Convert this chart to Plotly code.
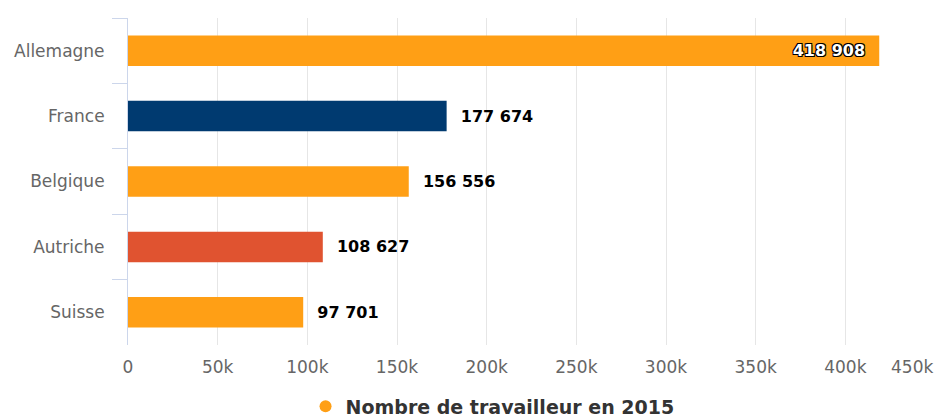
import plotly.graph_objects as go

# data
countries = ['Allemagne', 'France', 'Belgique', 'Autriche', 'Suisse']
workers_2015 = [418908, 177674, 156556, 108627, 97701]
bar_colors = ['#FF9F15', '#003A70', '#FF9F15', '#E05330', '#FF9F15']
x_ticks = [0, 50000, 100000, 150000, 200000, 250000, 300000, 350000, 400000, 450000]
x_tick_labels = ['0', '50k', '100k', '150k', '200k', '250k', '300k', '350k', '400k', '450k']
series_name = 'Nombre de travailleur en 2015'

font_family = 'DejaVu Sans, Arial, sans-serif'
axis_color = '#ccd6eb'
grid_color = '#e6e6e6'

# biggest bar gets its label inside, the others outside
text_pos = ['inside'] + ['outside'] * (len(workers_2015) - 1)
templates = ['%{x:,d}\u00a0\u00a0'] + ['\u00a0\u00a0%{x:,d}'] * (len(workers_2015) - 1)

p = go.Figure()

p.add_trace(
    go.Bar(
        x=workers_2015, y=countries, orientation='h', marker=dict(color=bar_colors, line=dict(width=0)),
        texttemplate=templates, textposition=text_pos, insidetextanchor='end', cliponaxis=False,
        textfont=dict(family=font_family, size=16, color='#000000', weight='bold'),
        insidetextfont=dict(family=font_family, size=16, color='#ffffff', weight='bold',
                            shadow='-1px -1px 0 #000, 1px -1px 0 #000, -1px 1px 0 #000, 1px 1px 0 #000'),
        outsidetextfont=dict(family=font_family, size=16, color='#000000', weight='bold'),
        showlegend=False, hoverinfo='x+y'
    )
)

# legend entry drawn with a round marker like the original
p.add_trace(
    go.Scatter(
        x=[None], y=[None], mode='markers', name=series_name,
        marker=dict(symbol='circle', size=17, color=bar_colors[0])
    )
)

p.update_layout(
    width=937, height=419,
    margin=dict(l=128, r=2, t=18, b=74),
    paper_bgcolor='white', plot_bgcolor='white',
    bargap=0.534,
    separators=', ',
    font=dict(family=font_family, size=17, color='#666666'),
    showlegend=True,
    legend=dict(
        orientation='h', x=0.22, xanchor='left', yref='container', y=0.03, yanchor='middle',
        font=dict(family=font_family, size=19, color='#333333', weight='bold'),
        itemsizing='constant', bgcolor='rgba(0,0,0,0)', borderwidth=0
    ),
)

p.update_xaxes(
    range=[0, x_ticks[-1]], tickmode='array', tickvals=x_ticks,
    ticktext=x_tick_labels[:-1] + [''], automargin=False,
    showgrid=True, gridcolor=grid_color, gridwidth=1, zeroline=False,
    showline=False, ticks='', ticklabelstandoff=10,
    tickfont=dict(family=font_family, size=17, color='#666666')
)

p.update_yaxes(
    type='category', categoryorder='array', categoryarray=countries, autorange='reversed',
    automargin=False,
    showgrid=False, zeroline=False, showline=True, linecolor=axis_color, linewidth=1,
    ticks='outside', tickson='boundaries', ticklen=15, tickcolor=axis_color, tickwidth=1,
    ticklabelstandoff=19,
    tickfont=dict(family=font_family, size=17, color='#666666')
)

# last axis label is pulled inside the chart, as in the original
p.add_annotation(
    x=x_ticks[-1], xref='x', y=0, yref='paper', yshift=-22, xanchor='right', yanchor='middle',
    text=x_tick_labels[-1], showarrow=False,
    font=dict(family=font_family, size=17, color='#666666')
)

# drop the default page margin so the chart fills the window exactly
p.write_html('out.html', config={'displayModeBar': False},
             post_script="document.body.style.margin = '0';")
